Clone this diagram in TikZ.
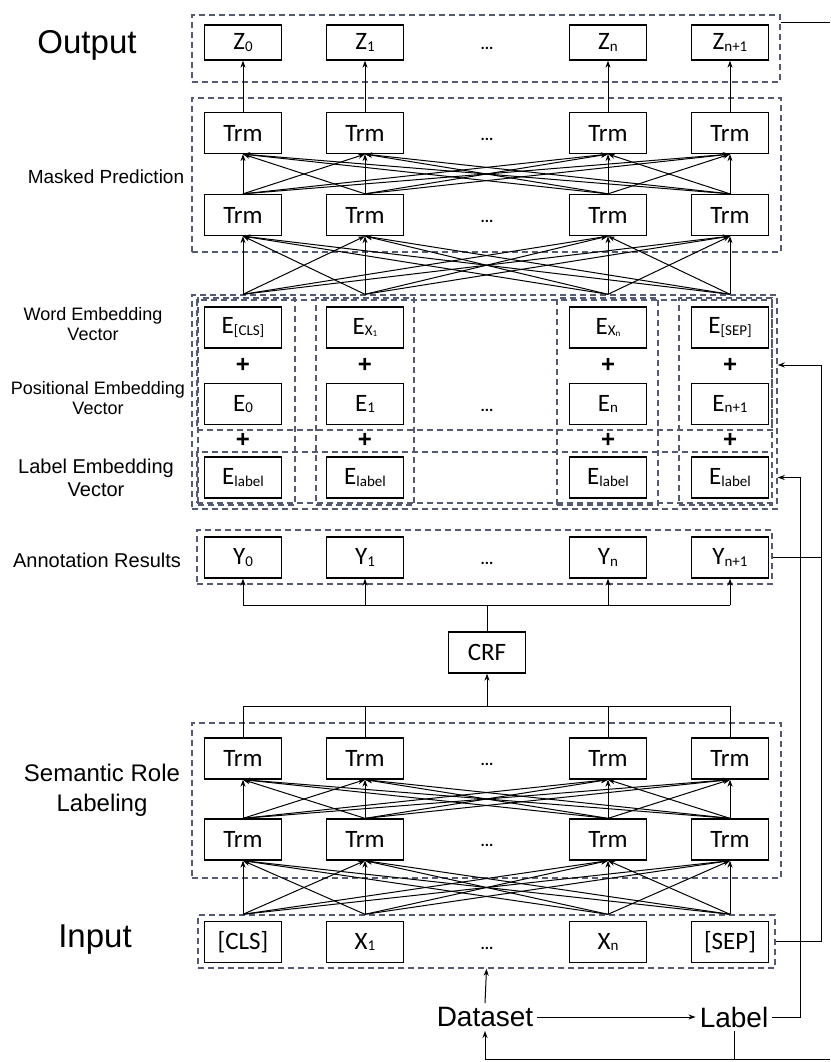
\documentclass[tikz,border=0pt]{standalone}
\usepackage{fontspec}
\setmainfont{Liberation Sans}
\newfontfamily\boxfont{Carlito}
\usetikzlibrary{fit,arrows.meta}
\definecolor{grpblue}{RGB}{84,90,116}
\newcommand\idx[1]{\raisebox{-1.5pt}{\fontsize{15}{15}\selectfont #1}}
\newcommand\iidx[1]{\raisebox{-1pt}{\fontsize{9}{9}\selectfont #1}}

\begin{document}
\begin{tikzpicture}[x=1pt,y=-1pt,>={Stealth[length=7pt,width=5pt]},
	blk/.style={draw,line width=1.3pt,minimum width=77pt,minimum height=41pt,inner sep=0pt,font=\boxfont\fontsize{25}{28}\selectfont},
	grp/.style={draw=grpblue,line width=1.4pt,dash pattern=on 6pt off 4pt,inner sep=0pt},
	side/.style={align=center,font=\fontsize{18}{20}\selectfont},
	big/.style={font=\fontsize{33}{36}\selectfont},
	dots/.style={font=\boxfont\bfseries\fontsize{16}{16}\selectfont,anchor=base},
	plus/.style={font=\bfseries\fontsize{24}{24}\selectfont,inner sep=0pt},
	conn/.style={line width=1pt},
	arr/.style={conn,->}]

\fill[white] (0,0) rectangle (830,1062);
\useasboundingbox (0,0) rectangle (830,1062);

% rows of blocks
\foreach \i/\x/\t in {0/243/{Z\idx{0}},1/365/{Z\idx{1}},2/608/{Z\idx{n}},3/730/{Z\idx{n+1}}}
	\node[blk,minimum height=35pt] (z\i) at (\x,42.5) {\t};
\foreach \i/\x in {0/243,1/365,2/608,3/730} {
	\node[blk] (mu\i) at (\x,133) {Trm};
	\node[blk] (ml\i) at (\x,215) {Trm};
	\node[blk] (su\i) at (\x,758.5) {Trm};
	\node[blk] (sl\i) at (\x,839.5) {Trm};
	\node[plus] (pw\i) at (\x,365) {+};
	\node[plus] (pl\i) at (\x,440) {+};
	\node[blk] (el\i) at (\x,477.5) {E\idx{label}};
}
\foreach \i/\x/\t in {0/243/{E\idx{[CLS]}},1/365/{E\idx{X\iidx{1}}},2/608/{E\idx{X\iidx{n}}},3/730/{E\idx{[SEP]}}}
	\node[blk] (ew\i) at (\x,327.5) {\t};
\foreach \i/\x/\t in {0/243/{E\idx{0}},1/365/{E\idx{1}},2/608/{E\idx{n}},3/730/{E\idx{n+1}}}
	\node[blk] (ep\i) at (\x,404) {\t};
\foreach \i/\x/\t in {0/243/{Y\idx{0}},1/365/{Y\idx{1}},2/608/{Y\idx{n}},3/730/{Y\idx{n+1}}}
	\node[blk] (y\i) at (\x,557.5) {\t};
\foreach \i/\x/\t in {0/243/{[CLS]},1/365/{X\idx{1}},2/608/{X\idx{n}},3/730/{[SEP]}}
	\node[blk] (in\i) at (\x,942) {\t};
\foreach \y [count=\k] in {42.5,133,215,404,557.5,758.5,839.5,942}
	\node[dots] (dots\k) at (487,{\y+7}) {...};
\node[blk,minimum width=77pt] (crf) at (487,652.5) {CRF};

% dashed groups
\node[grp,fit={(192,15) (780,82)}] (outgrp) {};
\node[grp,fit={(192,98) (781,252)}] (maskgrp) {};
\node[grp,fit={(192,295) (777,509)}] (embgrp) {};
\node[grp,fit={(197,300) (772,430)}] (wpgrp) {};
\node[grp,fit={(197,452) (772,503)}] (lblgrp) {};
\foreach \i/\a/\b in {0/198/295,1/316/414,2/557/658,3/679/772}
	\node[grp,fit={(\a,298) (\b,505)}] (col\i) {};
\node[grp,fit={(197,530) (772,584)}] (anngrp) {};
\node[grp,fit={(192,723) (781,878)}] (srlgrp) {};
\node[grp,fit={(198,915) (775,968)}] (ingrp) {};

% side texts
\node[big] (tout) at (87,45) {Output};
\node[side,font=\fontsize{19}{21}\selectfont] (tmask) at (106,177) {Masked Prediction};
\node[side] (tword) at (93,324) {Word Embedding\\Vector};
\node[side] (tpos) at (98,398) {Positional Embedding\\Vector};
\node[side,font=\fontsize{20}{23}\selectfont] (tlab) at (96,478) {Label Embedding\\Vector};
\node[side,font=\fontsize{20}{22}\selectfont] (tann) at (97,560) {Annotation Results};
\node[side,font=\fontsize{24}{30}\selectfont] (tsrl) at (102,790) {Semantic Role\\Labeling};
\node[big] (tin) at (95,940) {Input};
\node[font=\fontsize{28}{30}\selectfont,inner sep=4pt] (ds) at (485,1017) {Dataset};
\node[font=\fontsize{28}{30}\selectfont,inner sep=4pt] (lab) at (734,1017) {Label};

% full connections between layers
\foreach \i in {0,...,3}
	\foreach \j in {0,...,3} {
		\draw[arr] (ml\i.north) -- (mu\j.south);
		\draw[arr] (ew\i.north |- embgrp.north) -- (ml\j.south);
		\draw[arr] (sl\i.north) -- (su\j.south);
		\draw[arr] (in\i.north |- ingrp.north) -- (sl\j.south);
	}
\foreach \i in {0,...,3}
	\draw[arr] (mu\i.north) -- (z\i.south);

% CRF buses
\coordinate (ybus) at (487,605);
\coordinate (sbus) at (487,706);
\draw[conn] (crf.north) -- (ybus);
\draw[conn] (y0.south |- ybus) -- (y3.south |- ybus);
\foreach \i in {0,...,3}
	\draw[arr] (y\i.south |- ybus) -- (y\i.south);
\draw[arr] (sbus) -- (crf.south);
\draw[conn] (su0.north |- sbus) -- (su3.north |- sbus);
\foreach \i in {0,...,3}
	\draw[conn] (su\i.north |- sbus) -- (su\i.north);

% right side feedback
\coordinate (rin) at (821,0);
\coordinate (rlab) at (800,0);
\coordinate (oend) at (830,23);
\coordinate (bend) at (830,1059);
\draw[conn] (outgrp.east |- oend) -- (oend);
\draw[arr] (ingrp.east) -- (ingrp.east -| rin) |- (embgrp.east |- pw3);
\draw[conn] (anngrp.east) -- (anngrp.east -| rin);
\draw[arr] (lab.east) -- (lab.east -| rlab) |- (embgrp.east |- el3);

% dataset and label
\draw[arr] (ds.north) -- (ingrp.south);
\draw[arr] (ds.east) -- (lab.west);
\draw[conn] (lab.south) -- (lab.south |- bend);
\draw[conn] (ds.south |- bend) -- (bend);
\draw[arr] (ds.south |- bend) -- (ds.south);

\end{tikzpicture}
\end{document}
